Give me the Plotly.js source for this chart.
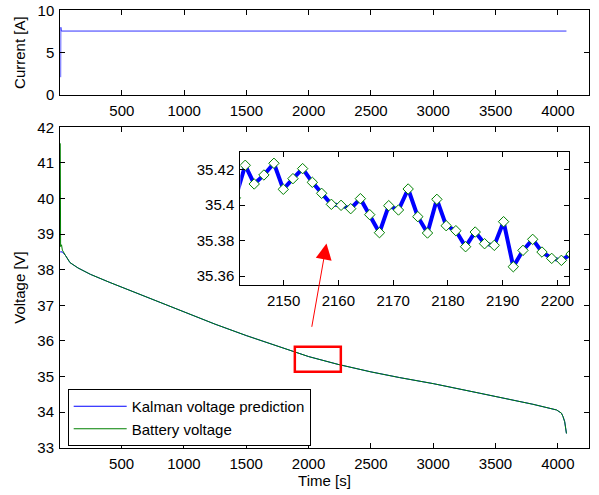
<!DOCTYPE html>
<html>
<head>
<meta charset="utf-8">
<script src="https://cdn.plot.ly/plotly-3.0.1.min.js"></script>
<style>html,body{margin:0;padding:0;background:#fff;}#chart{width:599px;height:495px;}</style>
</head>
<body>
<div id="chart"></div>
<script>
// ---- Data ----
const currentTime = [9, 10, 11, 14, 4069];
const currentA = [2.1, 8.0, 7.45, 7.55, 7.55];

const batteryTime = [8, 11, 18, 25, 50, 86, 150, 250, 400, 600, 800, 1000, 1250, 1500, 1770, 2000, 2237, 2500, 2730, 3000, 3374, 3600, 3800, 3990, 4029, 4042, 4055, 4069];
const batteryV = [41.55, 38.65, 38.7, 38.55, 38.4, 38.2, 38.05, 37.87, 37.65, 37.37, 37.1, 36.82, 36.47, 36.15, 35.82, 35.56, 35.34, 35.13, 34.97, 34.8, 34.53, 34.37, 34.22, 34.06, 33.97, 33.87, 33.73, 33.40];

const kalmanTime = [8, 25, 50, 86, 150, 250, 400, 600, 800, 1000, 1250, 1500, 1770, 2000, 2237, 2500, 2730, 3000, 3374, 3600, 3800, 3990, 4029, 4042, 4055, 4069];
const kalmanV = [38.5, 38.5, 38.4, 38.2, 38.05, 37.87, 37.65, 37.37, 37.1, 36.82, 36.47, 36.15, 35.82, 35.56, 35.34, 35.13, 34.97, 34.8, 34.53, 34.37, 34.22, 34.06, 33.97, 33.87, 33.73, 33.40];

// zoomed window (inset)
const zoomTime = [2141.23, 2143.00, 2144.64, 2146.41, 2148.24, 2149.95, 2151.71, 2153.48, 2155.25, 2156.95, 2158.72, 2160.49, 2162.25, 2164.02, 2165.73, 2167.50, 2169.20, 2170.97, 2172.74, 2174.50, 2176.27, 2177.98, 2179.68, 2181.45, 2183.22, 2184.98, 2186.69, 2188.46, 2190.16, 2191.93, 2193.70, 2195.47, 2197.17, 2198.94, 2200.71, 2202.47];
const zoomBattery = [35.4040, 35.42235, 35.41183, 35.41690, 35.42348, 35.40883, 35.41483, 35.42047, 35.41277, 35.40657, 35.40038, 35.39981, 35.39793, 35.40357, 35.39455, 35.38441, 35.39962, 35.39718, 35.40901, 35.39343, 35.38423, 35.40319, 35.38835, 35.38554, 35.37652, 35.38479, 35.37821, 35.37728, 35.39061, 35.36526, 35.37446, 35.38066, 35.37352, 35.36995, 35.36883, 35.37240];
const zoomKalman = zoomBattery.slice();

const mainXTicks = [500, 1000, 1500, 2000, 2500, 3000, 3500, 4000];
const currentYTicks = [0, 5, 10];
const voltageYTicks = [33, 34, 35, 36, 37, 38, 39, 40, 41, 42];
const insetXTicks = [2150, 2160, 2170, 2180, 2190, 2200];
const insetYTicks = [35.36, 35.38, 35.40, 35.42];
const insetYText = ['35.36', '35.38', '35.4', '35.42'];

// ---- Styling ----
const FONT = {family: 'Liberation Sans, Arial, sans-serif', size: 15, color: '#000'};
const BLUE = '#0000ff';
const GREEN = '#008000';

function axisBase(extra) {
  return Object.assign({
    showline: true, linecolor: '#000', linewidth: 1, mirror: 'ticks',
    ticks: 'inside', ticklen: 5, tickcolor: '#000', tickwidth: 1,
    showgrid: false, zeroline: false, automargin: false,
    tickfont: FONT, ticklabelstandoff: 2
  }, extra);
}

const traces = [
  {x: currentTime, y: currentA, xaxis: 'x', yaxis: 'y', mode: 'lines',
   line: {color: 'rgb(50,50,255)', width: 1}, showlegend: false, hoverinfo: 'skip'},
  {x: kalmanTime, y: kalmanV, xaxis: 'x2', yaxis: 'y2', mode: 'lines',
   name: 'Kalman voltage prediction', line: {color: BLUE, width: 1}},
  {x: batteryTime, y: batteryV, xaxis: 'x2', yaxis: 'y2', mode: 'lines',
   name: 'Battery voltage', line: {color: GREEN, width: 1}},
  {x: zoomTime, y: zoomKalman, xaxis: 'x3', yaxis: 'y3', mode: 'lines',
   line: {color: BLUE, width: 4}, showlegend: false},
  {x: zoomTime, y: zoomBattery, xaxis: 'x3', yaxis: 'y3', mode: 'markers',
   marker: {symbol: 'diamond', size: 8, color: '#fff', line: {color: GREEN, width: 1}},
   showlegend: false}
];

const layout = {
  width: 599, height: 495,
  margin: {l: 0, r: 0, t: 0, b: 0},
  paper_bgcolor: '#fff', plot_bgcolor: '#fff',
  font: FONT,
  xaxis: axisBase({domain: [60.3/599, 589/599], range: [6, 4250], tickvals: mainXTicks, anchor: 'y'}),
  yaxis: axisBase({domain: [1-95/495, 1-10.3/495], range: [0, 10], tickvals: currentYTicks, anchor: 'x',
    title: {text: 'Current [A]', font: FONT, standoff: 8}}),
  xaxis2: axisBase({domain: [60/599, 589/599], range: [6, 4250], tickvals: mainXTicks, anchor: 'y2',
    title: {text: 'Time [s]', font: FONT, standoff: 4}}),
  yaxis2: axisBase({domain: [1-447.7/495, 1-127.3/495], range: [33, 42], tickvals: voltageYTicks, anchor: 'x2',
    title: {text: 'Voltage [V]', font: FONT, standoff: 8}}),
  xaxis3: axisBase({domain: [240.3/599, 569/599], range: [2142.1, 2202.1], tickvals: insetXTicks, anchor: 'y3'}),
  yaxis3: axisBase({domain: [1-285.3/495, 1-151.7/495], range: [35.3548, 35.4300], tickvals: insetYTicks, ticktext: insetYText, anchor: 'x3'}),
  legend: {x: 67.7/599, y: 1-417.5/495, xanchor: 'left', yanchor: 'middle',
    bgcolor: '#fff', bordercolor: '#000', borderwidth: 1, font: FONT,
    itemwidth: 53, tracegroupgap: 0},
  shapes: [
    {type: 'rect', xref: 'x2', yref: 'y2', x0: 1890, x1: 2259, y0: 35.135, y1: 35.837,
     line: {color: '#ff0000', width: 2.5}, fillcolor: 'rgba(0,0,0,0)'}
  ],
  annotations: [
    {xref: 'x2', yref: 'y2', axref: 'x2', ayref: 'y2', x: 2144, y: 38.736, ax: 2024, ay: 36.354,
     text: '', showarrow: true, arrowhead: 2, arrowsize: 3.2, arrowwidth: 1, arrowcolor: '#ff0000'}
  ]
};

Plotly.newPlot('chart', traces, layout, {staticPlot: true, displayModeBar: false});
</script>
</body>
</html>
